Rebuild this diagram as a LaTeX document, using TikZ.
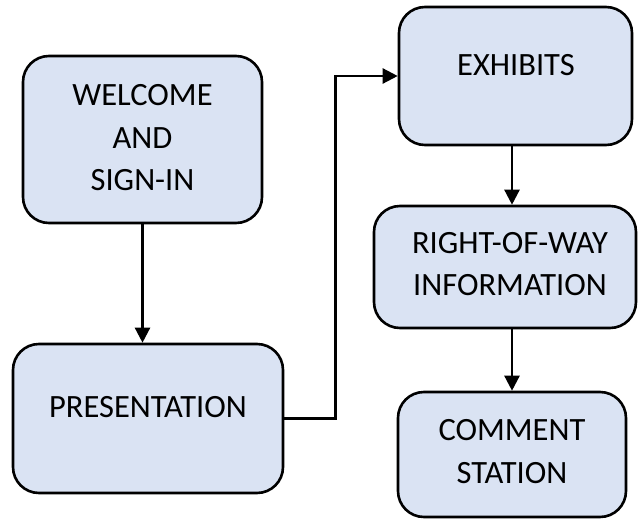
\documentclass[tikz,border=0pt]{standalone}
\usepackage{fontspec}
\setmainfont{Carlito}
\usetikzlibrary{arrows.meta}
\definecolor{boxfill}{HTML}{DAE3F3}
\tikzset{
  flowbox/.style={draw=black, line width=2.6pt, fill=boxfill, rounded corners=26pt, inner sep=0pt},
  flowtext/.style={align=center, inner sep=0pt, font=\fontsize{32.5}{42.5}\selectfont},
  flowarrow/.style={line width=2.4pt, -{Triangle[length=15pt,width=15pt]}},
}
\begin{document}
\begin{tikzpicture}[x=1pt,y=-1pt]
\useasboundingbox (0,0) rectangle (638,520);
\node[flowbox, minimum width=239pt, minimum height=167pt] (wel) at (142.5,139.5) {};
\node[flowbox, minimum width=270pt, minimum height=149pt] (pre) at (148,418.5) {};
\node[flowbox, minimum width=233pt, minimum height=138pt] (exh) at (515.5,76) {};
\node[flowbox, minimum width=262pt, minimum height=122pt] (row) at (505,267) {};
\node[flowbox, minimum width=228pt, minimum height=125pt] (com) at (512,454.5) {};
\node[flowtext] (welt) at (142.5,138) {WELCOME\\AND\\SIGN-IN};
\node[flowtext] (pret) at (148,407) {PRESENTATION};
\node[flowtext] (exht) at (516,65) {EXHIBITS};
\node[flowtext] (rowt) at (510,264) {RIGHT-OF-WAY\\INFORMATION};
\node[flowtext] (comt) at (512,451.5) {COMMENT\\STATION};
\coordinate (ax) at (512,0);
\draw[flowarrow] (wel.south) -- (wel.south |- pre.north);
\draw[flowarrow] (pre.east) -- ++(51,0) |- (exh.west);
\draw[flowarrow] (exh.south -| ax) -- (row.north -| ax);
\draw[flowarrow] (row.south -| ax) -- (com.north -| ax);
\end{tikzpicture}
\end{document}
